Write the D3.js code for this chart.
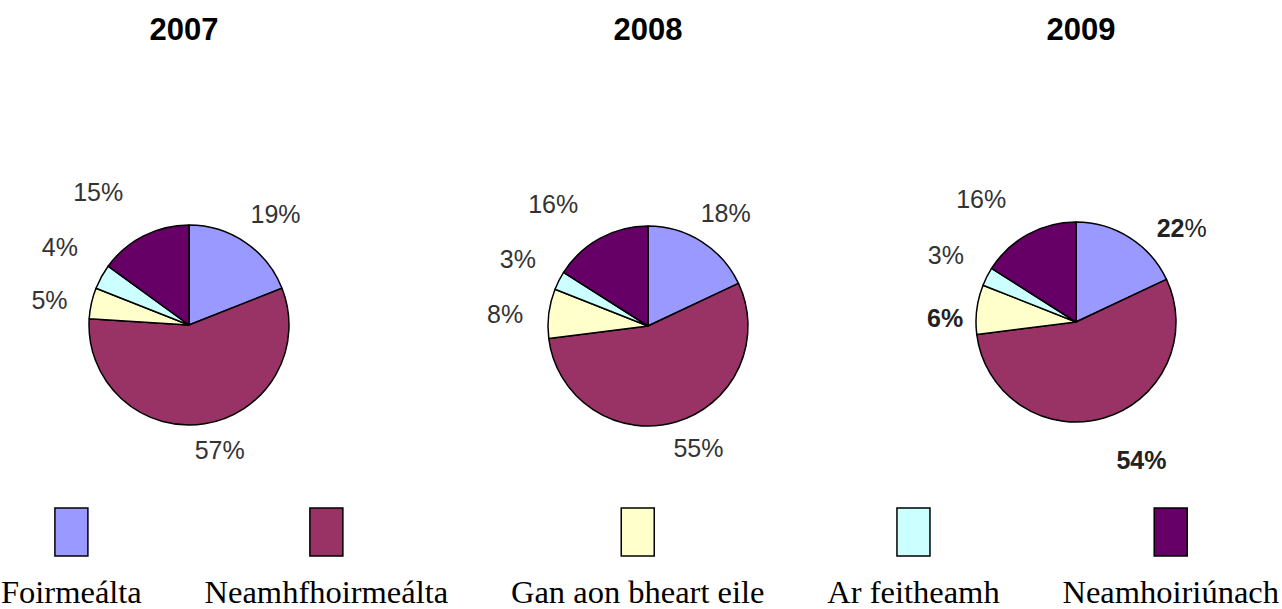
<!DOCTYPE html>
<html>
<head>
<meta charset="utf-8">
<script src="https://cdn.jsdelivr.net/npm/d3@7"></script>
<style>
  body { margin: 0; background: #fff; }
  svg { display: block; }
</style>
</head>
<body>
<svg width="1282" height="609"></svg>
<script>
// categories and colours (old Excel palette)
const categories = ["Foirmeálta", "Neamhfhoirmeálta", "Gan aon bheart eile", "Ar feitheamh", "Neamhoiriúnach"];
const colors = ["#9999ff", "#993366", "#ffffcc", "#ccffff", "#660066"];

const years = ["2007", "2008", "2009"];

// slice sizes as drawn (the 2009 pie is drawn with the 2008 shares)
const slices2007 = [19, 57, 5, 4, 15];
const slices2008 = [18, 55, 8, 3, 16];
const slices2009 = [18, 55, 8, 3, 16];

// label texts as printed on the chart
const labels2007 = ["19%", "57%", "5%", "4%", "15%"];
const labels2008 = ["18%", "55%", "8%", "3%", "16%"];
const labels2009 = ["22%", "54%", "6%", "3%", "16%"];
// bold style of the labels: "" normal, "num" number only, "all" whole label
const bold2009 = ["num", "all", "all", "", ""];

const allSlices = [slices2007, slices2008, slices2009];
const allLabels = [labels2007, labels2008, labels2009];
const allBold = [["", "", "", "", ""], ["", "", "", "", ""], bold2009];

// layout
const svg = d3.select("svg"),
    width = +svg.attr("width"),
    height = +svg.attr("height");
const pieX = [189, 648, 1076];
const pieY = [325, 326, 322];
const titleShift = [-5, 0, 5];
const radius = 100;
// small hand tweaks of the label positions (dx, dy)
const labelNudge = [
    [[5, 9], [8, -18], [2, 7], [-2, -8], [-25, -4]],
    [[0, 9], [10, -17], [1, 6], [-1, -1], [-25, 5]],
    [[28, 28], [25, -1], [13, 14], [-1, -1], [-25, 4]]
];

const pie = d3.pie().sort(null).value(d => d);
const arc = d3.arc().innerRadius(0).outerRadius(radius);
const labelArc = d3.arc().innerRadius(radius * 1.45).outerRadius(radius * 1.45);

years.forEach((yr, i) => {
    const g = svg.append("g")
        .attr("transform", "translate(" + pieX[i] + "," + pieY[i] + ")");

    // title
    svg.append("text")
        .attr("x", pieX[i] + titleShift[i])
        .attr("y", 40)
        .attr("text-anchor", "middle")
        .style("font-family", "'Liberation Sans', Arial, sans-serif")
        .style("font-weight", "bold")
        .style("font-size", "31px")
        .attr("fill", "#000")
        .text(yr);

    const arcs = pie(allSlices[i]);

    g.selectAll("path")
        .data(arcs)
        .join("path")
        .attr("d", arc)
        .attr("fill", (d, j) => colors[j])
        .attr("stroke", "#000")
        .attr("stroke-width", 1.5)
        .attr("stroke-linejoin", "round");

    const lab = g.selectAll("text.pct")
        .data(arcs)
        .join("text")
        .attr("class", "pct")
        .attr("transform", (d, j) => {
            const c = labelArc.centroid(d);
            return "translate(" + (c[0] + labelNudge[i][j][0]) + "," + (c[1] + labelNudge[i][j][1]) + ")";
        })
        .attr("text-anchor", "middle")
        .attr("dy", "0.36em")
        .style("font-family", "'Liberation Sans', Arial, sans-serif")
        .style("font-size", "25px")
        .attr("fill", (d, j) => allBold[i][j] ? "#222" : "#333");

    lab.each(function(d, j) {
        const t = d3.select(this);
        const txt = allLabels[i][j];
        const b = allBold[i][j];
        if (b === "num") {
            t.append("tspan").style("font-weight", "bold").text(txt.replace("%", ""));
            t.append("tspan").text("%");
        } else {
            t.append("tspan").style("font-weight", b === "all" ? "bold" : "normal").text(txt);
        }
    });
});

// legend: labels flow across the full width, swatch centred above each
const legend = svg.append("g");
const legTexts = legend.selectAll("text")
    .data(categories)
    .join("text")
    .attr("y", 603)
    .style("font-family", "'Liberation Serif', 'Times New Roman', serif")
    .style("font-size", "32.5px")
    .attr("fill", "#000")
    .text(d => d);

const widths = [];
legTexts.each(function() { widths.push(this.getComputedTextLength()); });
const left = 1, right = 1279;
const gap = (right - left - d3.sum(widths)) / (categories.length - 1);
let xPos = left;
const starts = widths.map(w => { const s = xPos; xPos += w + gap; return s; });

legTexts.attr("x", (d, j) => starts[j]);

legend.selectAll("rect")
    .data(categories)
    .join("rect")
    .attr("x", (d, j) => starts[j] + widths[j] / 2 - 16.5)
    .attr("y", 508)
    .attr("width", 33)
    .attr("height", 48)
    .attr("fill", (d, j) => colors[j])
    .attr("stroke", "#000")
    .attr("stroke-width", 1.5);
</script>
</body>
</html>
